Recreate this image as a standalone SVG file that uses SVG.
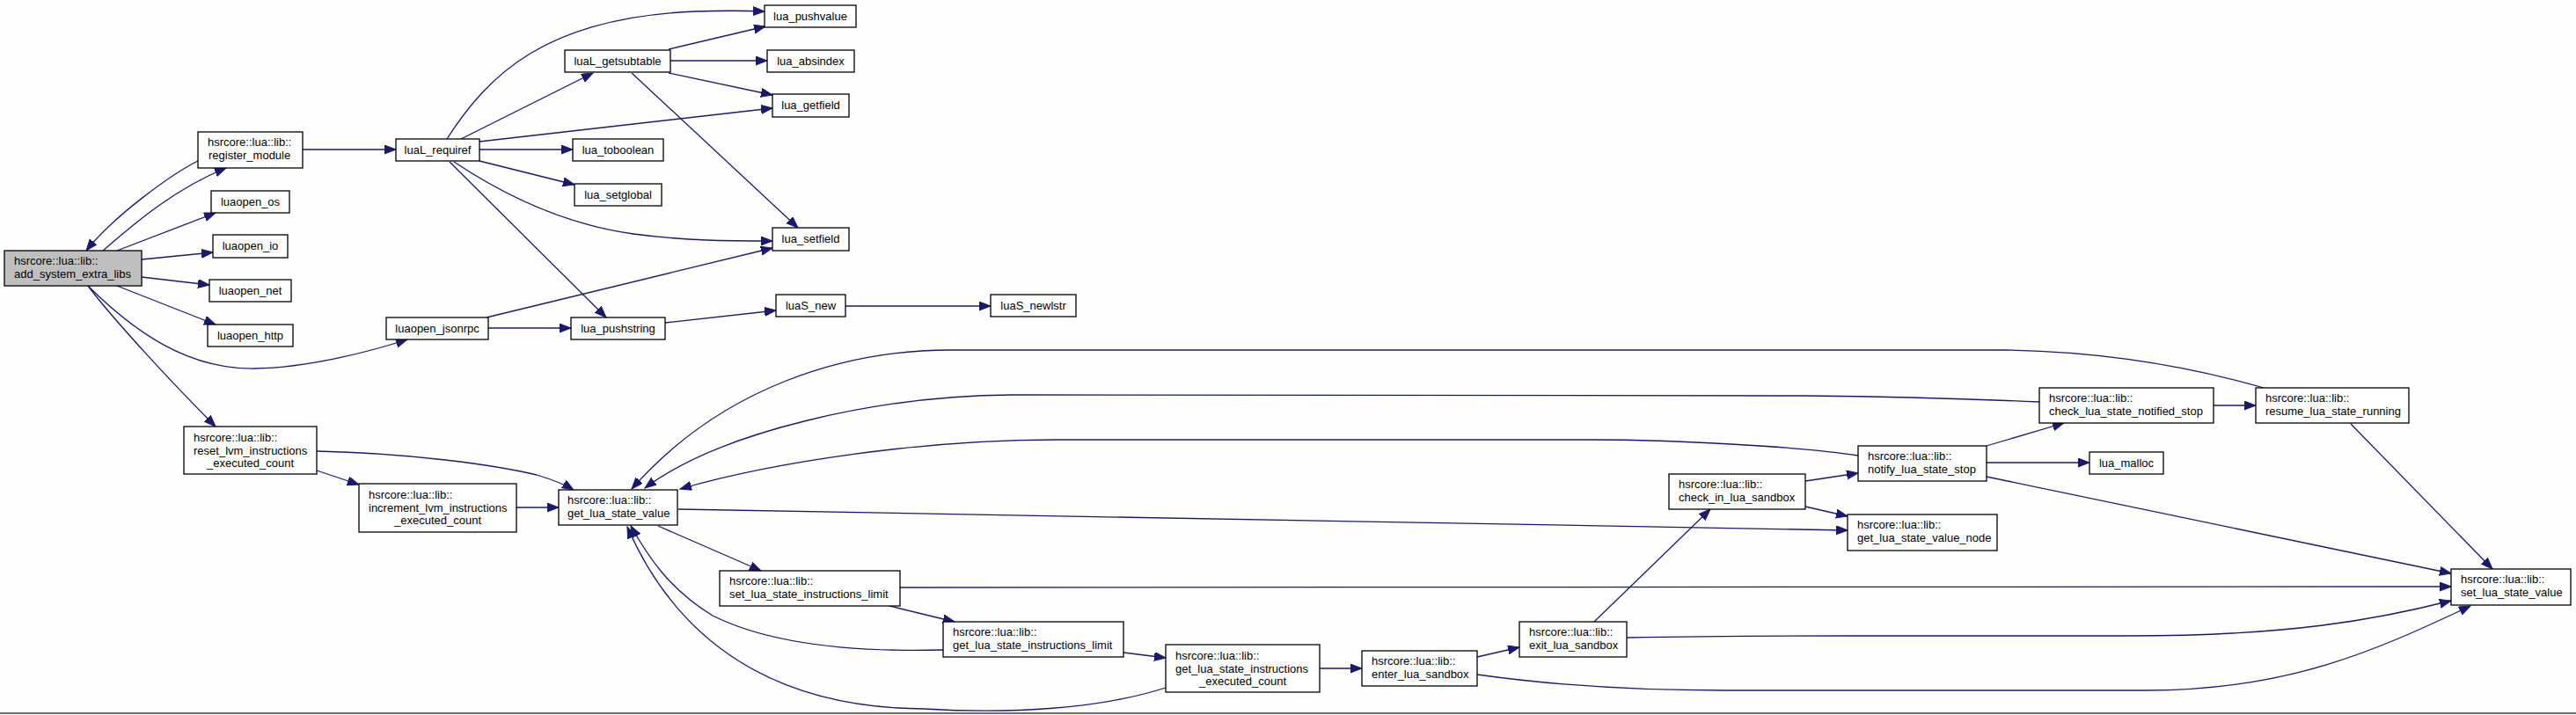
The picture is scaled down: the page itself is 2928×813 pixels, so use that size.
<svg xmlns="http://www.w3.org/2000/svg" width="2928" height="813" viewBox="0 0 2928 813">
<style>
.n rect{fill:#ffffff;stroke:#000000;stroke-width:1.3}
.n.g rect{fill:#bfbfbf}
.n text{font-family:"Liberation Sans",Arial,sans-serif;font-size:13px;fill:#000000}
.c{text-anchor:middle}
.e path{fill:none;stroke:#191970;stroke-width:1.3;marker-end:url(#ah)}
</style>
<defs>
<marker id="ah" markerUnits="userSpaceOnUse" markerWidth="14" markerHeight="11" refX="13" refY="5" orient="auto"><path d="M0,0 L13,5 L0,10 z" fill="#191970" stroke="#191970" stroke-width="1"/></marker>
</defs>
<rect x="0" y="0" width="2928" height="813" fill="#fdfefd"/>
<rect x="0" y="810" width="2928" height="2" fill="#6e6e6e"/>
<g id="connectors" class="e">
<path d="M117,285 C155,252 200,214 257,191"/>
<path d="M225,183 C195,198 130,245 98,285"/>
<path d="M133,285 L245,242"/>
<path d="M161,295 L242,287"/>
<path d="M161,315 L238,324"/>
<path d="M133,325 L245,369"/>
<path d="M100,325 C170,395 230,420 290,419 C350,418 420,400 463,386"/>
<path d="M100,325 C130,365 200,440 245,485"/>
<path d="M344,170 L450,170"/>
<path d="M508,158 C555,85 620,20 790,13 C820,12 845,12 869,13"/>
<path d="M524,158 L674,83"/>
<path d="M545,161 L878,123"/>
<path d="M545,170 L651,170"/>
<path d="M545,183 L653,210"/>
<path d="M516,184 C570,220 640,255 720,266 C780,274 830,274 878,274"/>
<path d="M511,184 L689,361"/>
<path d="M760,56 L870,30"/>
<path d="M762,69 L872,69"/>
<path d="M760,83 L878,108"/>
<path d="M718,83 L907,259"/>
<path d="M553,361 L878,282"/>
<path d="M555,373 L649,373"/>
<path d="M756,367 L882,353"/>
<path d="M961,348 L1126,348"/>
<path d="M360,513 C460,515 560,528 610,540 C630,546 642,551 652,557"/>
<path d="M360,535 L408,551"/>
<path d="M587,577 L635,577"/>
<path d="M748,598 L865,649"/>
<path d="M771,579 L2100,603"/>
<path d="M2573,441 C2500,420 2400,400 2280,398 L1080,398 C960,398 820,440 718,556"/>
<path d="M2318,457 C2250,454 2150,451 2050,450 L1150,449 C1000,450 820,490 733,555"/>
<path d="M2112,518 C2050,508 1900,500 1810,500 L1200,500 C1050,500 880,525 773,556"/>
<path d="M1072,739 C960,742 870,730 810,700 C760,670 735,630 717,598"/>
<path d="M1325,782 C1250,806 1150,812 1050,806 C880,805 770,730 713,599"/>
<path d="M1011,689 L1085,707"/>
<path d="M1023,668 L2786,667"/>
<path d="M1277,742 L1325,748"/>
<path d="M1500,760 L1548,760"/>
<path d="M1679,747 L1727,736"/>
<path d="M1679,767 C1750,777 1850,785 1960,785 L2440,785 C2600,785 2700,740 2808,689"/>
<path d="M1812,707 L1944,579"/>
<path d="M1849,725 C1900,724 2000,723 2100,723 L2420,723 C2600,723 2700,705 2786,683"/>
<path d="M2052,547 L2112,538"/>
<path d="M2052,576 L2100,587"/>
<path d="M2258,507 L2346,481"/>
<path d="M2258,526 L2375,526"/>
<path d="M2258,542 L2786,652"/>
<path d="M2516,461 L2564,461"/>
<path d="M2672,482 L2833,647"/>
</g>
<g id="add_system_extra_libs" class="n g"><rect x="5" y="285" width="156" height="40"/><text x="16" y="301">hsrcore::lua::lib::</text><text x="16" y="316">add_system_extra_libs</text></g>
<g id="register_module" class="n"><rect x="225" y="150" width="119" height="41"/><text x="236" y="166">hsrcore::lua::lib::</text><text x="237" y="181">register_module</text></g>
<g id="luaopen_os" class="n"><rect x="240" y="217" width="89" height="25"/><text class="c" x="284.5" y="233.5">luaopen_os</text></g>
<g id="luaopen_io" class="n"><rect x="242" y="267" width="85" height="26"/><text class="c" x="284.5" y="284">luaopen_io</text></g>
<g id="luaopen_net" class="n"><rect x="238" y="318" width="93" height="25"/><text class="c" x="284.5" y="334.5">luaopen_net</text></g>
<g id="luaopen_http" class="n"><rect x="236" y="369" width="97" height="25"/><text class="c" x="284.5" y="385.5">luaopen_http</text></g>
<g id="luaL_requiref" class="n"><rect x="450" y="158" width="95" height="25"/><text class="c" x="497.5" y="174.5">luaL_requiref</text></g>
<g id="luaopen_jsonrpc" class="n"><rect x="439" y="361" width="116" height="25"/><text class="c" x="497" y="377.5">luaopen_jsonrpc</text></g>
<g id="luaL_getsubtable" class="n"><rect x="642" y="57" width="120" height="25"/><text class="c" x="702" y="73.5">luaL_getsubtable</text></g>
<g id="lua_toboolean" class="n"><rect x="651" y="158" width="103" height="25"/><text class="c" x="702.5" y="174.5">lua_toboolean</text></g>
<g id="lua_setglobal" class="n"><rect x="653" y="209" width="99" height="25"/><text class="c" x="702.5" y="225.5">lua_setglobal</text></g>
<g id="lua_pushstring" class="n"><rect x="649" y="361" width="107" height="25"/><text class="c" x="702.5" y="377.5">lua_pushstring</text></g>
<g id="lua_pushvalue" class="n"><rect x="869" y="6" width="104" height="25"/><text class="c" x="921" y="22.5">lua_pushvalue</text></g>
<g id="lua_absindex" class="n"><rect x="872" y="57" width="99" height="25"/><text class="c" x="921.5" y="73.5">lua_absindex</text></g>
<g id="lua_getfield" class="n"><rect x="878" y="107" width="87" height="26"/><text class="c" x="921.5" y="124">lua_getfield</text></g>
<g id="lua_setfield" class="n"><rect x="878" y="259" width="87" height="26"/><text class="c" x="921.5" y="276">lua_setfield</text></g>
<g id="luaS_new" class="n"><rect x="882" y="335" width="79" height="25"/><text class="c" x="921.5" y="351.5">luaS_new</text></g>
<g id="luaS_newlstr" class="n"><rect x="1126" y="335" width="97" height="25"/><text class="c" x="1174.5" y="351.5">luaS_newlstr</text></g>
<g id="reset_lvm_instructions_executed_count" class="n"><rect x="209" y="485" width="151" height="54"/><text x="220" y="502">hsrcore::lua::lib::</text><text x="220" y="516.5">reset_lvm_instructions</text><text class="c" x="284.5" y="531">_executed_count</text></g>
<g id="increment_lvm_instructions_executed_count" class="n"><rect x="408" y="550" width="179" height="55"/><text x="419" y="567">hsrcore::lua::lib::</text><text x="419" y="581.5">increment_lvm_instructions</text><text class="c" x="497.5" y="596">_executed_count</text></g>
<g id="get_lua_state_value" class="n"><rect x="635" y="557" width="135" height="40"/><text x="645" y="573">hsrcore::lua::lib::</text><text x="645" y="588">get_lua_state_value</text></g>
<g id="set_lua_state_instructions_limit" class="n"><rect x="818" y="649" width="205" height="40"/><text x="829" y="665">hsrcore::lua::lib::</text><text x="829" y="680">set_lua_state_instructions_limit</text></g>
<g id="get_lua_state_instructions_limit" class="n"><rect x="1072" y="707" width="205" height="40"/><text x="1083" y="723">hsrcore::lua::lib::</text><text x="1083" y="738">get_lua_state_instructions_limit</text></g>
<g id="get_lua_state_instructions_executed_count" class="n"><rect x="1325" y="733" width="175" height="54"/><text x="1336" y="750">hsrcore::lua::lib::</text><text x="1336" y="764.5">get_lua_state_instructions</text><text class="c" x="1412.5" y="779">_executed_count</text></g>
<g id="enter_lua_sandbox" class="n"><rect x="1548" y="740" width="131" height="40"/><text x="1559" y="756">hsrcore::lua::lib::</text><text x="1559" y="771">enter_lua_sandbox</text></g>
<g id="exit_lua_sandbox" class="n"><rect x="1727" y="707" width="122" height="40"/><text x="1738" y="723">hsrcore::lua::lib::</text><text x="1738" y="738">exit_lua_sandbox</text></g>
<g id="check_in_lua_sandbox" class="n"><rect x="1897" y="539" width="155" height="40"/><text x="1908" y="555">hsrcore::lua::lib::</text><text x="1908" y="570">check_in_lua_sandbox</text></g>
<g id="notify_lua_state_stop" class="n"><rect x="2112" y="507" width="146" height="40"/><text x="2123" y="523">hsrcore::lua::lib::</text><text x="2123" y="538">notify_lua_state_stop</text></g>
<g id="get_lua_state_value_node" class="n"><rect x="2100" y="585" width="170" height="41"/><text x="2111" y="601">hsrcore::lua::lib::</text><text x="2111" y="616">get_lua_state_value_node</text></g>
<g id="lua_malloc" class="n"><rect x="2375" y="514" width="84" height="25"/><text class="c" x="2417" y="530.5">lua_malloc</text></g>
<g id="check_lua_state_notified_stop" class="n"><rect x="2318" y="441" width="198" height="40"/><text x="2329" y="457">hsrcore::lua::lib::</text><text x="2329" y="472">check_lua_state_notified_stop</text></g>
<g id="resume_lua_state_running" class="n"><rect x="2564" y="441" width="174" height="40"/><text x="2575" y="457">hsrcore::lua::lib::</text><text x="2575" y="472">resume_lua_state_running</text></g>
<g id="set_lua_state_value" class="n"><rect x="2786" y="647" width="136" height="41"/><text x="2797" y="663">hsrcore::lua::lib::</text><text x="2797" y="678">set_lua_state_value</text></g>
</svg>
